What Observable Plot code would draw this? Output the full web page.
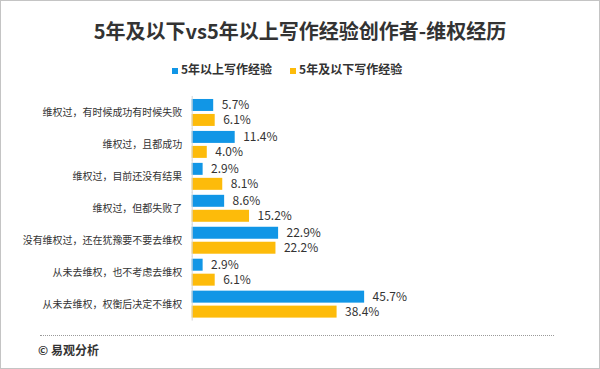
<!DOCTYPE html>
<html>
<head>
<meta charset="utf-8">
<script src="https://cdn.jsdelivr.net/npm/d3@7"></script>
<script src="https://cdn.jsdelivr.net/npm/@observablehq/plot@0.6"></script>
<style>
  html, body { margin: 0; padding: 0; background: #fff; }
  #frame { position: relative; width: 600px; height: 369px; box-sizing: border-box; border: 1px solid #c4c4c4; background: #fff; overflow: hidden; font-family: "Noto Sans CJK SC", "Noto Sans", sans-serif; color: #333; }
  #title { position: absolute; left: 0; top: 17px; width: 598px; text-align: center; font-size: 20px; font-weight: bold; color: #333; line-height: 26px; }
  #legend { position: absolute; left: 171px; top: 60px; white-space: nowrap; font-size: 12px; font-weight: bold; color: #333; line-height: 16px; }
  #legend span.item { display: inline-block; margin-right: 18px; }
  #legend span.sw { display: inline-block; width: 6px; height: 6px; margin-right: 3px; vertical-align: 0px; }
  #chart { position: absolute; left: -1px; top: 84px; }
  #dots { position: absolute; left: 39px; top: 334px; width: 514px; border-top: 1px dotted #9a9a9a; }
  #source { position: absolute; left: 37px; top: 340px; font-size: 12px; font-weight: bold; color: #333; line-height: 18px; }
</style>
</head>
<body>
<div id="frame">
  <div id="title"></div>
  <div id="legend"></div>
  <div id="chart"></div>
  <div id="dots"></div>
  <div id="source">© 易观分析</div>
</div>
<script>
const titleText = "5年及以下vs5年以上写作经验创作者-维权经历";
const categories = [
  "维权过，有时候成功有时候失败",
  "维权过，且都成功",
  "维权过，目前还没有结果",
  "维权过，但都失败了",
  "没有维权过，还在犹豫要不要去维权",
  "从未去维权，也不考虑去维权",
  "从未去维权，权衡后决定不维权"
];
const seriesNames = ["5年以上写作经验", "5年及以下写作经验"];
const seriesColors = ["#1196e6", "#fdbb0a"];
const above5 = [5.7, 11.4, 2.9, 8.6, 22.9, 2.9, 45.7];
const below5 = [6.1, 4.0, 8.1, 15.2, 22.2, 6.1, 38.4];

document.getElementById("title").textContent = titleText;
const legend = document.getElementById("legend");
seriesNames.forEach((s, i) => {
  const item = document.createElement("span");
  item.className = "item";
  const sw = document.createElement("span");
  sw.className = "sw";
  sw.style.background = seriesColors[i];
  item.appendChild(sw);
  item.appendChild(document.createTextNode(s));
  legend.appendChild(item);
});

const rows = [];
categories.forEach((c, i) => {
  rows.push({category: c, series: seriesNames[0], value: above5[i]});
  rows.push({category: c, series: seriesNames[1], value: below5[i]});
});

const chart = Plot.plot({
  width: 600,
  height: 241,
  marginLeft: 192,
  marginRight: 30,
  marginTop: 12,
  marginBottom: 7,
  style: {fontFamily: "Noto Sans CJK SC, Noto Sans, sans-serif", fontSize: "10px", color: "#333", background: "transparent"},
  x: {domain: [0, 100], axis: null},
  y: {domain: seriesNames, axis: null, paddingInner: 0.2, paddingOuter: 0},
  fy: {domain: categories, axis: "left", label: null, tickSize: 0, tickPadding: 10, padding: 0.16},
  color: {domain: seriesNames, range: seriesColors},
  marks: [
    Plot.barX(rows, {x: "value", y: "series", fy: "category", fill: "series"}),
    Plot.ruleX([0], {stroke: "#d6d6d6", insetTop: -3, insetBottom: -3}),
    Plot.text(rows, {x: "value", y: "series", fy: "category", text: d => d.value.toFixed(1) + "%", textAnchor: "start", dx: 8, fontSize: 12, fill: "#333"})
  ]
});
document.getElementById("chart").appendChild(chart);
</script>
</body>
</html>
